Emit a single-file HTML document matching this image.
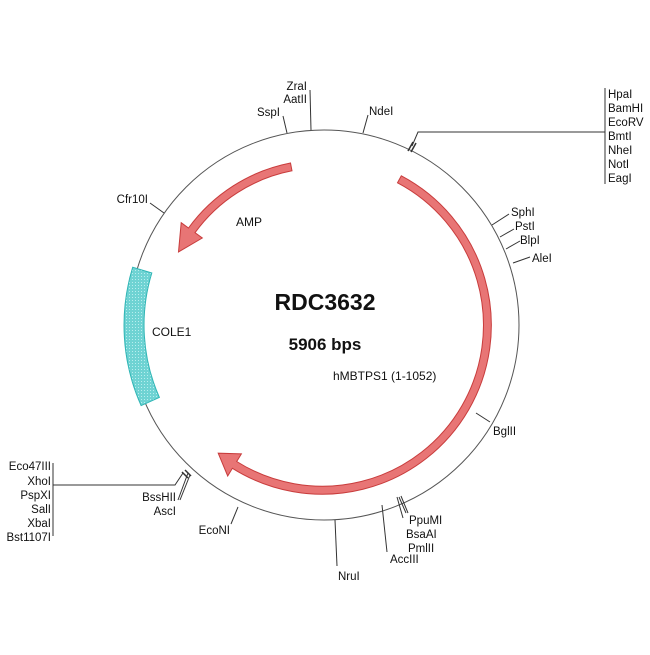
<!DOCTYPE html>
<html><head><meta charset="utf-8"><style>
html,body{margin:0;padding:0;background:#fff}
svg text{font-family:"Liberation Sans",Arial,sans-serif;font-size:11.5px;fill:#111}
</style></head><body>
<svg width="650" height="650" viewBox="0 0 650 650" xmlns="http://www.w3.org/2000/svg">
<defs>
<pattern id="dots" width="3" height="3" patternUnits="userSpaceOnUse"><rect width="3" height="3" fill="#6fd3d3"/><rect width="1" height="1" fill="#b8eeee"/></pattern>
</defs>
<circle cx="324" cy="325" r="195" fill="none" stroke="#555" stroke-width="1"/>
<!-- AMP -->
<path d="M 290.5 163 A 165 165 0 0 0 188.5 228 L 181.2 222.7 L 178.5 251.9 L 202.3 238 L 195 232.7 A 157 157 0 0 1 292 170.8 Z" fill="#e87575" stroke="#c83c3c" stroke-width="1"/>
<!-- hMBTPS1 -->
<path d="M 401.3 175.8 A 169 169 0 1 1 232.4 468.3 L 227.7 476 L 218.2 453.2 L 241.4 453.9 L 236.7 461.5 A 161 161 0 1 0 397.5 182.8 Z" fill="#e87575" stroke="#c83c3c" stroke-width="1"/>
<!-- COLE1 -->
<path d="M 132.7 267.2 A 198 198 0 0 0 141.1 405.6 L 159.4 397.4 A 178 178 0 0 1 151.8 273 Z" fill="url(#dots)" stroke="#2fb5b5" stroke-width="1"/>

<g stroke="#333" stroke-width="1" fill="none">
<line x1="287" y1="133" x2="283" y2="116"/>
<line x1="311" y1="130" x2="310" y2="90"/>
<line x1="363" y1="133" x2="368" y2="115"/>
<polyline points="412,146 418,132 605,132"/>
<line x1="605" y1="88" x2="605" y2="184"/>
<line x1="408" y1="151" x2="413" y2="142" stroke-width="1.5"/>
<line x1="411" y1="152" x2="416" y2="143" stroke-width="1.5"/>
<line x1="164" y1="213" x2="150" y2="203"/>
<line x1="492" y1="225" x2="509" y2="214"/>
<line x1="500" y1="237" x2="514" y2="229"/>
<line x1="506" y1="249" x2="520" y2="241"/>
<line x1="513" y1="263" x2="530" y2="257"/>
<line x1="476" y1="413" x2="490" y2="422"/>
<line x1="53" y1="463" x2="53" y2="536"/>
<polyline points="53,485 175,485 183,473"/>
<line x1="182" y1="472" x2="188" y2="478" stroke-width="1.5"/>
<line x1="185" y1="470" x2="191" y2="476" stroke-width="1.5"/>
<line x1="188" y1="473" x2="178" y2="500"/>
<line x1="190" y1="475" x2="180" y2="500"/>
<line x1="238" y1="507" x2="231" y2="524"/>
<line x1="335" y1="520" x2="337" y2="566"/>
<line x1="382" y1="505" x2="387" y2="552"/>
<line x1="397" y1="497" x2="403" y2="518"/>
<line x1="399" y1="497" x2="406" y2="513"/>
<line x1="401" y1="496" x2="408" y2="513"/>
</g>

<text x="280" y="116" text-anchor="end">SspI</text>
<text x="307" y="90" text-anchor="end">ZraI</text>
<text x="307" y="103" text-anchor="end">AatII</text>
<text x="369" y="115">NdeI</text>
<text x="608" y="98">HpaI</text>
<text x="608" y="112">BamHI</text>
<text x="608" y="126">EcoRV</text>
<text x="608" y="140">BmtI</text>
<text x="608" y="154">NheI</text>
<text x="608" y="168">NotI</text>
<text x="608" y="182">EagI</text>
<text x="148" y="203" text-anchor="end">Cfr10I</text>
<text x="511" y="216">SphI</text>
<text x="515" y="230">PstI</text>
<text x="520" y="244">BlpI</text>
<text x="532" y="262">AleI</text>
<text x="493" y="435">BglII</text>
<text x="51" y="470" text-anchor="end">Eco47III</text>
<text x="51" y="485" text-anchor="end">XhoI</text>
<text x="51" y="499" text-anchor="end">PspXI</text>
<text x="51" y="513" text-anchor="end">SalI</text>
<text x="51" y="527" text-anchor="end">XbaI</text>
<text x="51" y="541" text-anchor="end">Bst1107I</text>
<text x="176" y="501" text-anchor="end">BssHII</text>
<text x="176" y="515" text-anchor="end">AscI</text>
<text x="230" y="534" text-anchor="end">EcoNI</text>
<text x="338" y="580">NruI</text>
<text x="390" y="563">AccIII</text>
<text x="409" y="524">PpuMI</text>
<text x="406" y="538">BsaAI</text>
<text x="408" y="552">PmlII</text>

<text x="236" y="226" style="font-size:12px">AMP</text>
<text x="152" y="336" style="font-size:12px">COLE1</text>
<text x="333" y="380" style="font-size:12px">hMBTPS1 (1-1052)</text>
<text x="325" y="310" text-anchor="middle" style="font-size:23px;font-weight:bold">RDC3632</text>
<text x="325" y="350" text-anchor="middle" style="font-size:17px;font-weight:bold">5906 bps</text>
</svg>
</body></html>
